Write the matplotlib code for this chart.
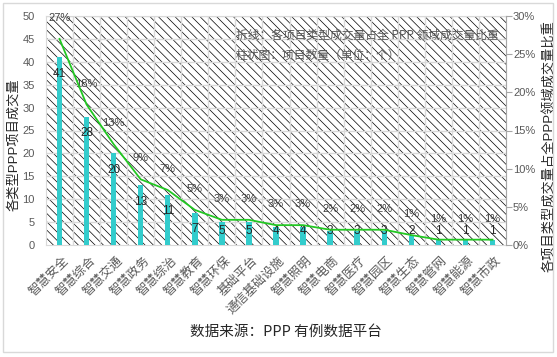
import numpy as np
import matplotlib
matplotlib.use("Agg")
import matplotlib.pyplot as plt
import matplotlib.transforms as mtransforms
from matplotlib.patches import Rectangle

plt.rcParams['font.family'] = ['Liberation Sans', 'Noto Sans CJK SC', 'DejaVu Sans']
plt.rcParams['hatch.color'] = '#d6d6d6'
plt.rcParams['hatch.linewidth'] = 0.5

categories = ['智慧安全', '智慧综合', '智慧交通', '智慧政务', '智慧综治', '智慧教育',
              '智慧环保', '基础平台', '通信基础设施', '智慧照明', '智慧电商', '智慧医疗',
              '智慧园区', '智慧生态', '智慧管网', '智慧能源', '智慧市政']
counts = [41, 28, 20, 13, 11, 7, 5, 5, 4, 4, 3, 3, 3, 2, 1, 1, 1]
share = [27.0, 18.4, 13.2, 8.6, 7.2, 4.6, 3.3, 3.3, 2.6, 2.6, 2.0, 2.0, 2.0, 1.3, 0.7, 0.7, 0.7]
share_labels = ['27%', '18%', '13%', '9%', '7%', '5%', '3%', '3%', '3%', '3%',
                '2%', '2%', '2%', '1%', '1%', '1%', '1%']

grid_c = '#d9d9d9'
gray_txt = '#595959'

fig = plt.figure(figsize=(5.57, 3.57), dpi=100)
fig.patches.append(Rectangle((3 / 557, 5 / 357), 550 / 557, 349 / 357, transform=fig.transFigure,
                             fill=False, edgecolor='#d9d9d9', lw=1))

ax = fig.add_axes([46 / 557, 1 - 245 / 357, 460 / 557, 229 / 357])
x = np.arange(len(categories))

# hatched background
ax.add_patch(Rectangle((0, 0), 1, 1, transform=ax.transAxes, fill=False,
                       hatch='\\\\\\\\', lw=0, zorder=0))

ax.bar(x, counts, width=0.2, color='#33CCCC', zorder=3)
ax.set_xlim(-0.5, len(categories) - 0.5)
ax.set_ylim(0, 50)
ax.set_yticks(range(0, 51, 5))
for yv in range(5, 51, 5):
    ax.axhline(yv, color=grid_c, lw=1, zorder=1)
for xv in np.arange(0.5, len(categories) - 0.5, 1):
    ax.axvline(xv, color=grid_c, lw=1, zorder=1)

for s in ['left', 'top', 'bottom', 'right']:
    ax.spines[s].set_color(grid_c)
ax.tick_params(axis='y', length=0, labelcolor=gray_txt, labelsize=8, pad=8)
ax.tick_params(axis='x', length=0, pad=0)
ax.set_xticks(x)
ax.set_xticklabels(categories, rotation=45, ha='right', va='center',
                   rotation_mode='anchor', color=gray_txt, fontsize=9)
shift = mtransforms.ScaledTranslation(7 / 100, -14 / 100, fig.dpi_scale_trans)
for lab in ax.get_xticklabels():
    lab.set_transform(lab.get_transform() + shift)
ax.set_ylabel('各类型PPP项目成交量', fontsize=9.5, color='#262626')
ax.yaxis.set_label_coords(-0.055, 0.44)

for xi, v in zip(x, counts):
    ax.text(xi, max(v - 3.6, 3.0), str(v), ha='center', va='center',
            fontsize=8.5, color='#262626', zorder=5)

ax2 = ax.twinx()
ax2.plot(x, np.array(share) / 100, color='#22c822', lw=1.3, zorder=4)
ax2.set_ylim(0, 0.30)
ax2.set_yticks(np.arange(0, 0.31, 0.05))
ax2.set_yticklabels([f'{int(round(t * 100))}%' for t in np.arange(0, 0.31, 0.05)])
for s in ['left', 'top', 'bottom']:
    ax2.spines[s].set_visible(False)
ax2.spines['right'].set_color('#a6a6a6')
ax2.tick_params(axis='y', direction='out', length=4, color='#a6a6a6',
                labelcolor=gray_txt, labelsize=8, pad=1)
ax2.set_ylabel('各项目类型成交量占全PPP领域成交量比重', fontsize=9.5, color='#262626',
               rotation=90)
ax2.yaxis.set_label_coords(1.08, 0.43)

for xi, v, lab in zip(x, share, share_labels):
    ax2.annotate(lab, (xi, v / 100), xytext=(0, 21), textcoords='offset pixels',
                 ha='center', va='center', fontsize=8, color='#404040')

fig.text(236 / 557, 1 - 35 / 357, '折线：各项目类型成交量占全 PPP 领域成交量比重',
         fontsize=8.5, color=gray_txt, va='center', family=['Noto Sans CJK SC'])
fig.text(236 / 557, 1 - 55 / 357, '柱状图：项目数量（单位：个）',
         fontsize=8.5, color=gray_txt, va='center', family=['Noto Sans CJK SC'])

fig.text(286 / 557, 1 - 332 / 357, '数据来源：PPP 有例数据平台', fontsize=10.5,
         color='#262626', ha='center', va='center', family=['Noto Sans CJK SC'])

fig.savefig('out.png', dpi=100)
